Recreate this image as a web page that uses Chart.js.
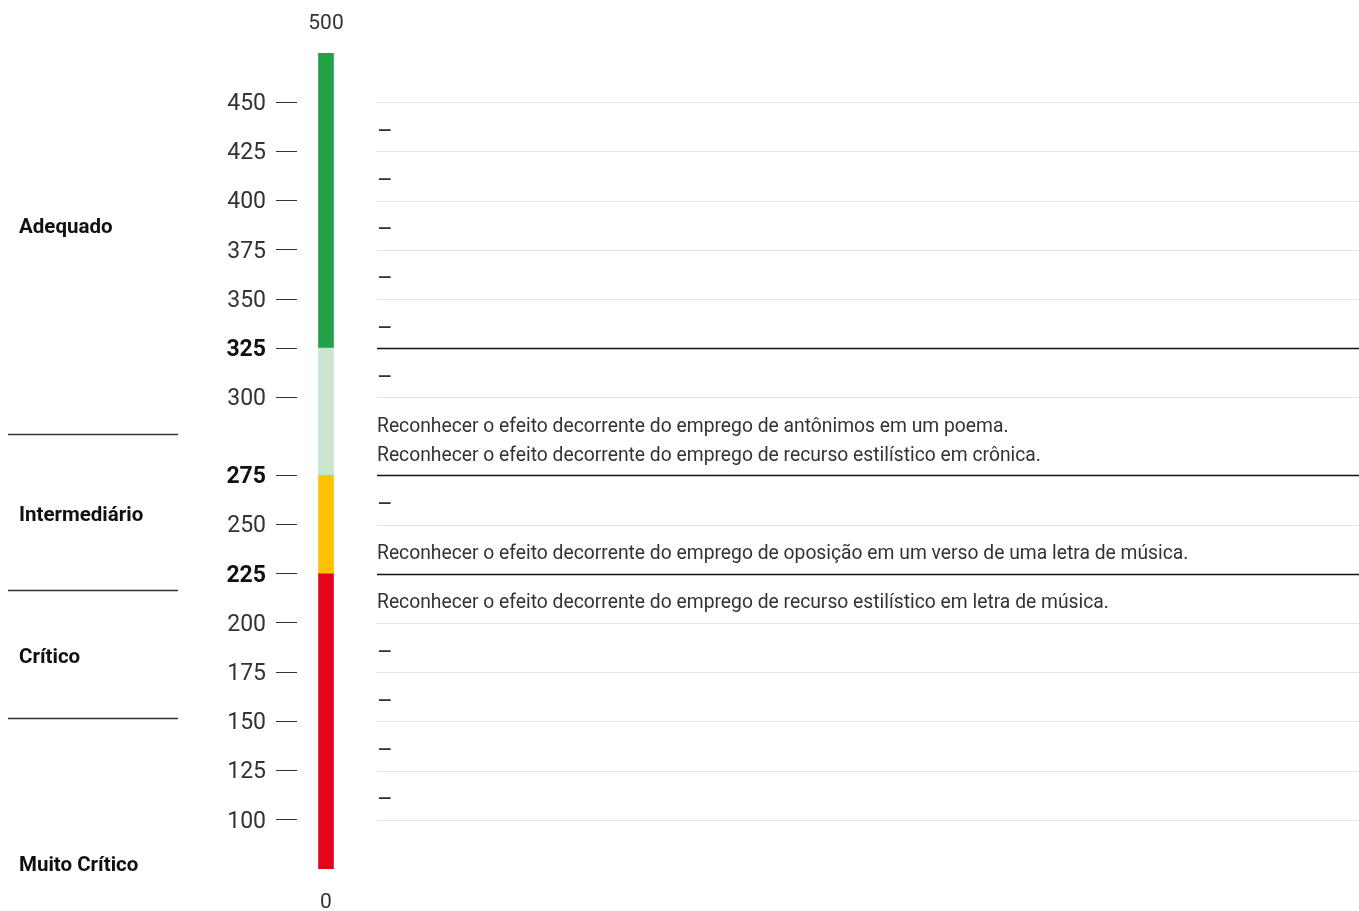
<!DOCTYPE html>
<html><head><meta charset="utf-8">
<script src="https://cdn.jsdelivr.net/npm/chart.js@4.4.1/dist/chart.umd.min.js"></script>
<style>html,body{margin:0;padding:0;background:#fff}#wrap{width:1359px;height:911px;position:relative}</style>
</head><body><div id="wrap"><canvas id="c" width="1359" height="911"></canvas></div>
<script>
// ---- data ----
const scaleMin = 75, scaleMax = 475;          // drawn bar span (labelled 0 and 500 at ends)
const endLabels = ['500', '0'];
const tickValues = [100,125,150,175,200,225,250,275,300,325,350,375,400,425,450];
const boldTicks = [225,275,325];
const segStarts = [75, 225, 275, 325];
const segEnds   = [225, 275, 325, 475];
const segColors = ['#e30519', '#fec200', '#cbe5d0', '#21a246'];
const levelNames = ['Adequado', 'Intermediário', 'Crítico', 'Muito Crítico'];
const levelLabelAt = [386, 254.4, 182.2, 76.5];
const levelDividers = [288.2, 216.8, 151.7];
const bandTops = [450,425,400,375,350,325,300,275,250,225,200,175,150,125];
const bandTexts = [
  ['–'],['–'],['–'],['–'],['–'],['–'],
  ['Reconhecer o efeito decorrente do emprego de antônimos em um poema.',
   'Reconhecer o efeito decorrente do emprego de recurso estilístico em crônica.'],
  ['–'],
  ['Reconhecer o efeito decorrente do emprego de oposição em um verso de uma letra de música.'],
  ['Reconhecer o efeito decorrente do emprego de recurso estilístico em letra de música.'],
  ['–'],['–'],['–'],['–']
];
const gridLines = [450,425,400,375,350,325,300,275,250,225,200,175,150,125,100];
const strongLines = [325,275,225];

const FONT = 'Roboto, "Open Sans", sans-serif';
const BAR_X = 29, ROW_X = 80;
const BAND = 25, EXTRA_PER_LINE = 14.63;   // rows with more text lines are drawn taller

// value -> display position: bands holding several text lines get extra height
function toDisplay(v) {
  let d = v;
  bandTops.forEach((t,i)=>{
    const n = bandTexts[i].length;
    if (n > 1) {
      const extra = (n-1)*EXTRA_PER_LINE;
      if (v >= t) d += extra;
      else if (v > t-BAND) d += extra*(v-(t-BAND))/BAND;
    }
  });
  return d;
}

class RowScale extends Chart.LinearScale {
  getPixelForValue(v) { return super.getPixelForValue(toDisplay(v)); }
}
RowScale.id = 'rowscale';
RowScale.defaults = Chart.LinearScale.defaults;
Chart.register(RowScale);

const datasets = segStarts.map((s,i)=>({
  data: [{x: BAR_X, y: [s, segEnds[i]]}],
  backgroundColor: segColors[i],
  borderWidth: 0,
  barThickness: 15,
  grouped: false
}));

const overlay = {
  id: 'overlay',
  afterDraw(chart) {
    const ctx = chart.ctx, y = chart.scales.y, x = chart.scales.x;
    const left = x.getPixelForValue(ROW_X), right = chart.width;
    ctx.save();
    // row grid lines
    gridLines.forEach(v=>{
      const py = Math.round(y.getPixelForValue(v)) + 0.5;
      const strong = strongLines.includes(v);
      ctx.strokeStyle = strong ? '#111' : '#e3e3e3';
      ctx.lineWidth = strong ? 1.3 : 1;
      ctx.beginPath(); ctx.moveTo(left, py); ctx.lineTo(right, py); ctx.stroke();
    });
    // row texts
    ctx.fillStyle = '#333';
    ctx.textAlign = 'left';
    ctx.textBaseline = 'alphabetic';
    bandTops.forEach((t,i)=>{
      const cy = (y.getPixelForValue(t) + y.getPixelForValue(t-BAND))/2;
      const lines = bandTexts[i];
      if (lines.length === 1 && lines[0] === '–') {
        ctx.font = '400 24px ' + FONT;
        ctx.fillText('–', left, cy + 12);
      } else {
        ctx.font = '400 19.3px ' + FONT;
        const lh = 29;
        lines.forEach((s,j)=>{
          ctx.fillText(s, left, cy + 10 + (j - (lines.length-1)/2)*lh);
        });
      }
    });
    // end labels
    const bx = x.getPixelForValue(BAR_X);
    ctx.textAlign = 'center';
    ctx.textBaseline = 'middle';
    ctx.font = '400 21px ' + FONT;
    ctx.fillStyle = '#333';
    ctx.fillText(endLabels[0], bx, y.getPixelForValue(scaleMax) - 29);
    ctx.fillText(endLabels[1], bx, y.getPixelForValue(scaleMin) + 34);
    // level labels and dividers
    ctx.textAlign = 'left';
    ctx.fillStyle = '#111';
    ctx.font = '700 20.5px ' + FONT;
    levelNames.forEach((n,i)=> ctx.fillText(n, 19, y.getPixelForValue(levelLabelAt[i])));
    ctx.strokeStyle = '#333'; ctx.lineWidth = 1.5;
    levelDividers.forEach(v=>{
      const py = Math.round(y.getPixelForValue(v)) + 0.5;
      ctx.beginPath(); ctx.moveTo(8, py); ctx.lineTo(178, py); ctx.stroke();
    });
    ctx.restore();
  }
};

new Chart(document.getElementById('c'), {
  type: 'bar',
  data: { datasets },
  options: {
    responsive: false,
    animation: false,
    layout: { padding: { top: 53, bottom: 42, left: 0, right: 0 } },
    plugins: { legend: { display: false }, tooltip: { enabled: false } },
    scales: {
      x: { type: 'linear', min: 0, max: 1062, display: false, offset: false },
      y: {
        type: 'rowscale',
        min: toDisplay(scaleMin), max: toDisplay(scaleMax),
        afterFit(s) { s.width = 297; },
        afterBuildTicks(s) { s.ticks = tickValues.map(v=>({value: v})); },
        border: { display: false },
        grid: { drawOnChartArea: false, tickLength: 21, color: '#333', lineWidth: 1 },
        ticks: {
          padding: 10,
          labelOffset: 2,
          color: ctx => boldTicks.includes(ctx.tick.value) ? '#111' : '#333',
          font: ctx => ({ family: FONT, size: 23, weight: boldTicks.includes(ctx.tick && ctx.tick.value) ? '700' : '400' })
        }
      }
    }
  },
  plugins: [overlay]
});
</script></body></html>
